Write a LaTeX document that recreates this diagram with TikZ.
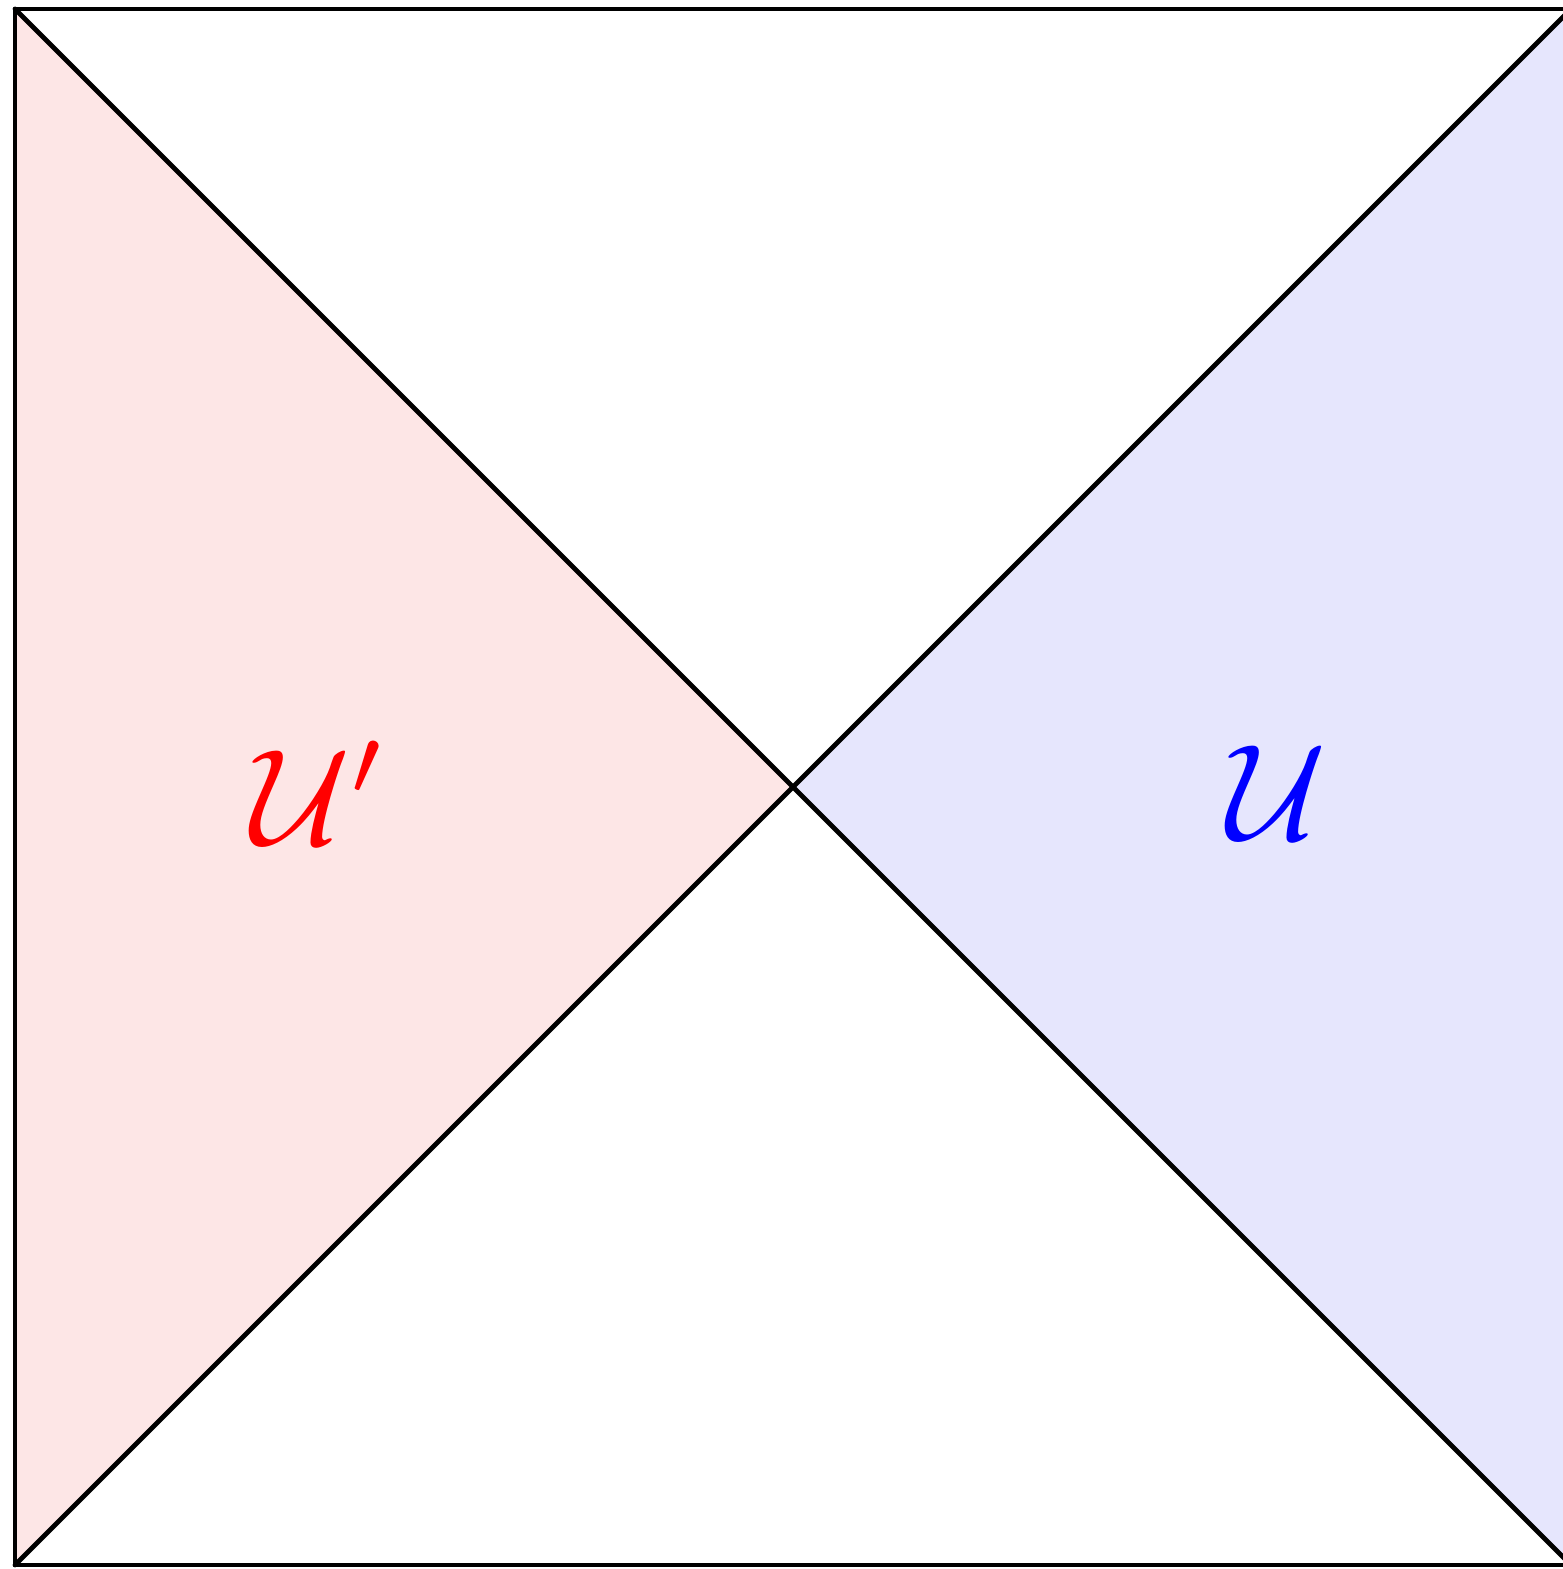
\documentclass[tikz,border=0pt]{standalone}
\begin{document}
\begin{tikzpicture}[line cap=round,line join=round,
  edge/.style={black,line width=0.35pt},
  wedgelabel/.style={font=\normalsize,inner sep=0pt}]
  \definecolor{leftfill}{RGB}{253,230,230}
  \definecolor{rightfill}{RGB}{230,230,253}
  \useasboundingbox (-0.0386,-0.0103) rectangle (3.979,4.0231);

  % corners and the crossing point
  \coordinate (SW) at (0,0);
  \coordinate (SE) at (4,0);
  \coordinate (NE) at (4,4);
  \coordinate (NW) at (0,4);
  \coordinate (C) at (2,2);

  % shaded wedges
  \fill[leftfill] (NW) -- (C) -- (SW) -- cycle;
  \fill[rightfill] (NE) -- (C) -- (SE) -- cycle;

  % frame and diagonals
  \draw[edge] (SW) rectangle (NE);
  \draw[edge] (SW) -- (NE) (NW) -- (SE);

  % wedge labels
  \node[wedgelabel,text=red] (Uprime) at (0.785,1.985) {$\mathcal{U}'$};
  \node[wedgelabel,text=blue] (U) at (3.245,1.985) {$\mathcal{U}$};
\end{tikzpicture}
\end{document}
